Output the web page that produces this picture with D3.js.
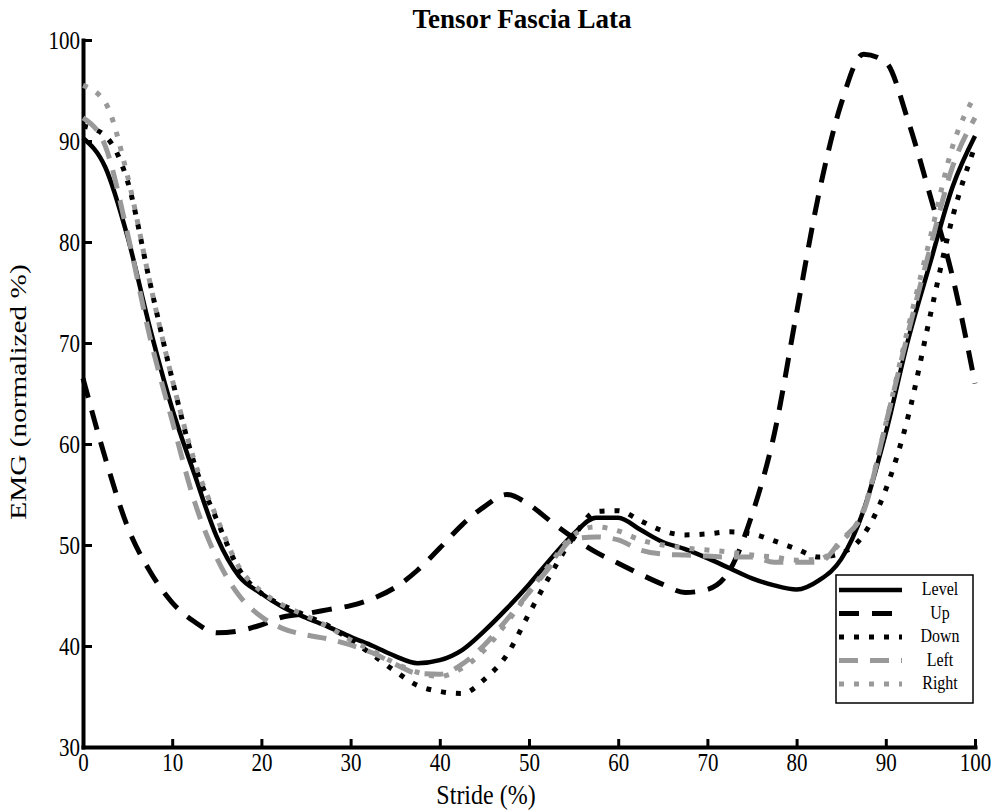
<!DOCTYPE html>
<html>
<head>
<meta charset="utf-8">
<script src="https://cdn.jsdelivr.net/npm/d3@7/dist/d3.min.js"></script>
<style>
  body { margin: 0; background: #fff; }
  text { font-family: "Liberation Serif", "Times New Roman", serif; fill: #000; }
</style>
</head>
<body>
<svg id="chart" width="998" height="810"></svg>
<script>
// stride (%) sample points
var stride = [0, 2.5, 5, 7.5, 10, 12.5, 15, 17.5, 20, 22.5, 25, 27.5, 30, 32.5, 35, 37.5, 40,
              42.5, 45, 47.5, 50, 52.5, 55, 57.5, 60, 62.5, 65, 67.5, 70, 72.5, 75, 77.5, 80,
              82.5, 85, 87.5, 90, 92.5, 95, 97.5, 100];

// EMG (normalized %) per condition
var level = [90.3, 87.4, 80.5, 71.5, 63.5, 57.0, 50.8, 46.9, 45.2, 43.8, 42.8, 41.9, 40.9, 40.0,
             39.0, 38.3, 38.6, 39.6, 41.5, 43.7, 46.1, 48.7, 51.1, 52.7, 52.7, 51.5, 50.3, 49.6,
             48.7, 47.7, 46.7, 46.0, 45.6, 46.5, 48.6, 53.4, 61.1, 70.3, 78.0, 85.5, 90.5];
var up    = [66.5, 58.6, 51.8, 47.4, 44.3, 42.4, 41.3, 41.5, 42.1, 42.9, 43.2, 43.6, 44.0, 44.7,
             45.8, 47.5, 49.7, 52.0, 53.8, 55.0, 54.0, 52.3, 50.7, 49.3, 48.2, 47.1, 46.1, 45.3,
             45.6, 47.5, 53.0, 61.0, 73.0, 84.8, 93.7, 98.6, 97.8, 92.0, 84.5, 76.5, 66.0];
var down  = [91.5, 90.5, 86.0, 76.0, 66.4, 58.0, 52.5, 47.6, 45.2, 44.0, 43.0, 42.0, 40.6, 39.1,
             37.5, 36.1, 35.5, 35.3, 36.7, 39.1, 43.2, 47.2, 50.8, 53.3, 53.4, 52.4, 51.4, 51.0,
             51.1, 51.3, 51.1, 50.4, 49.6, 48.8, 49.2, 51.0, 55.5, 62.7, 72.8, 82.5, 89.5];
var left  = [92.3, 89.5, 80.8, 70.6, 62.3, 54.3, 48.7, 45.0, 42.9, 41.7, 41.1, 40.7, 40.1, 39.3,
             38.2, 37.3, 37.2, 38.2, 40.1, 42.6, 45.3, 48.0, 50.6, 50.8, 50.5, 49.5, 49.1, 49.0,
             48.9, 48.8, 48.8, 48.3, 48.3, 48.3, 50.5, 53.3, 62.0, 71.0, 79.5, 87.5, 92.3];
var right = [95.5, 93.8, 86.5, 76.0, 66.4, 58.3, 52.7, 47.8, 45.4, 44.0, 43.0, 41.9, 40.6, 39.5,
             38.3, 37.4, 37.0, 37.8, 39.6, 42.3, 45.3, 48.3, 51.0, 51.8, 51.4, 50.5, 50.0, 49.7,
             49.5, 49.3, 49.0, 48.8, 48.5, 48.6, 50.3, 53.5, 62.0, 71.5, 80.5, 89.5, 94.5];

var seriesNames = ["Level", "Up", "Down", "Left", "Right"];
var xTicks = [0, 10, 20, 30, 40, 50, 60, 70, 80, 90, 100];
var yTicks = [30, 40, 50, 60, 70, 80, 90, 100];

// line looks for each condition
var styles = {
  "Level": {color: "#000", dash: null,    w: 4.5},
  "Up":    {color: "#000", dash: "20,13", w: 5},
  "Down":  {color: "#000", dash: "5,10",  w: 5},
  "Left":  {color: "#999", dash: "19,12", w: 5},
  "Right": {color: "#999", dash: "5,10",  w: 5}
};
var seriesData = {"Level": level, "Up": up, "Down": down, "Left": left, "Right": right};

var margin = {top: 40, right: 23, bottom: 63, left: 83},
    width = 998 - margin.left - margin.right,
    height = 810 - margin.top - margin.bottom;

var stretch = 1.22;  // text in the figure is drawn a bit tall

var root = d3.select("#chart");
var svg = root.append("g")
    .attr("transform", "translate(" + margin.left + "," + margin.top + ")");

var xScale = d3.scaleLinear().domain([0, 100]).range([0, width]);
var yScale = d3.scaleLinear().domain([30, 100]).range([height, 0]);

// axes
var gx = svg.append("g")
    .attr("transform", "translate(0," + height + ")")
    .call(d3.axisBottom(xScale).tickValues(xTicks).tickSizeInner(-8).tickSizeOuter(0).tickPadding(5));
var gy = svg.append("g")
    .call(d3.axisLeft(yScale).tickValues(yTicks).tickSizeInner(-9).tickSizeOuter(0).tickPadding(3));

[gx, gy].forEach(function(g) {
  g.select(".domain").attr("stroke", "#000").attr("stroke-width", 4).attr("stroke-linecap", "square");
  g.selectAll(".tick line").attr("stroke", "#000").attr("stroke-width", 3);
  g.selectAll(".tick text")
    .style("font-family", '"Liberation Serif", "Times New Roman", serif')
    .style("font-size", "21px")
    .attr("fill", "#000")
    .attr("transform", "scale(1," + stretch + ")");
});

// lines
var lineGen = function(vals) {
  return d3.line()
    .x(function(d, i) { return xScale(stride[i]); })
    .y(function(d) { return yScale(d); })
    .curve(d3.curveMonotoneX)(vals);
};

seriesNames.forEach(function(name) {
  var st = styles[name];
  svg.append("path")
    .attr("d", lineGen(seriesData[name]))
    .attr("fill", "none")
    .attr("stroke", st.color)
    .attr("stroke-width", st.w)
    .attr("stroke-dasharray", st.dash)
    .attr("stroke-linecap", "butt");
});

// title and axis labels
root.append("text")
    .attr("transform", "translate(522,28)")
    .attr("text-anchor", "middle")
    .style("font-size", "27px")
    .style("font-weight", "bold")
    .text("Tensor Fascia Lata");

root.append("text")
    .attr("transform", "translate(486,804) scale(1,1.1)")
    .attr("text-anchor", "middle")
    .style("font-size", "24px")
    .text("Stride (%)");

root.append("text")
    .attr("transform", "translate(26,392) rotate(-90) scale(" + stretch + ",1)")
    .attr("text-anchor", "middle")
    .style("font-size", "24px")
    .text("EMG (normalized %)");

// legend
var legend = root.append("g").attr("transform", "translate(836,575)");
legend.append("rect")
    .attr("width", 137).attr("height", 128)
    .attr("fill", "#fff").attr("stroke", "#000").attr("stroke-width", 1.5);

seriesNames.forEach(function(name, i) {
  var st = styles[name];
  var ry = 15 + i * 23.5;
  legend.append("line")
    .attr("x1", 3).attr("x2", 66).attr("y1", ry).attr("y2", ry)
    .attr("stroke", st.color)
    .attr("stroke-width", st.w)
    .attr("stroke-dasharray", st.dash);
  legend.append("text")
    .attr("transform", "translate(104," + (ry + 5) + ") scale(1," + stretch + ")")
    .attr("text-anchor", "middle")
    .style("font-size", "16px")
    .text(name);
});
</script>
</body>
</html>
